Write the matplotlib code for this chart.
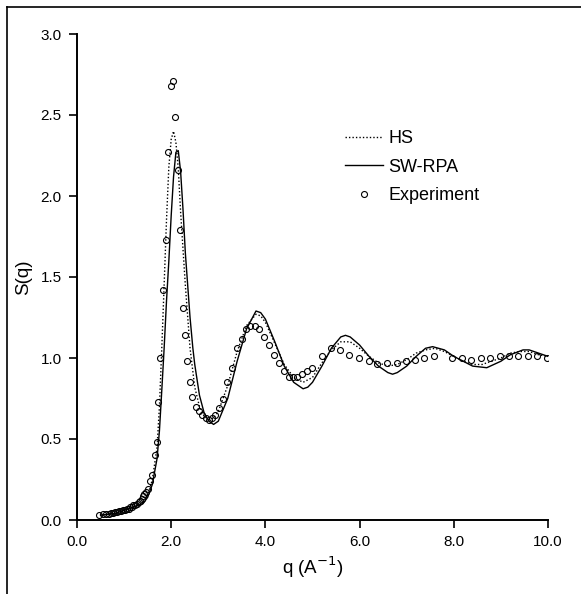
import matplotlib.pyplot as plt
from matplotlib.lines import Line2D
import numpy as np

plt.rcParams['font.family'] = ['Liberation Sans', 'DejaVu Sans']

# theory curves
q_hs = [0.5, 0.8, 1.0, 1.2, 1.4, 1.5, 1.6, 1.7, 1.75, 1.8, 1.85, 1.9, 1.95, 2.0, 2.05, 2.1,
        2.15, 2.2, 2.3, 2.4, 2.5, 2.6, 2.7, 2.8, 2.9, 3.0, 3.2, 3.4, 3.6, 3.8, 3.9, 4.0,
        4.2, 4.4, 4.6, 4.8, 5.0, 5.2, 5.4, 5.6, 5.8, 6.0, 6.2, 6.4, 6.6, 6.8, 7.0, 7.2,
        7.4, 7.6, 7.8, 8.0, 8.2, 8.4, 8.6, 8.8, 9.0, 9.2, 9.4, 9.6, 9.8, 10.0]
s_hs = [0.03, 0.04, 0.06, 0.08, 0.11, 0.15, 0.25, 0.45, 0.7, 1.06, 1.45, 1.85, 2.18, 2.35, 2.40, 2.33,
        2.17, 1.9, 1.45, 1.06, 0.82, 0.70, 0.64, 0.62, 0.63, 0.67, 0.83, 1.04, 1.20, 1.27, 1.26, 1.22,
        1.09, 0.96, 0.88, 0.85, 0.88, 0.97, 1.05, 1.10, 1.10, 1.06, 1.01, 0.97, 0.95, 0.96, 0.99, 1.03,
        1.05, 1.06, 1.04, 1.01, 0.98, 0.96, 0.96, 0.98, 1.0, 1.03, 1.04, 1.04, 1.02, 1.01]

q_sw = [0.5, 0.8, 1.0, 1.2, 1.4, 1.5, 1.6, 1.7, 1.75, 1.8, 1.85, 1.9, 1.95, 2.0, 2.05, 2.1,
        2.15, 2.2, 2.25, 2.3, 2.4, 2.46, 2.5, 2.6, 2.7, 2.8, 2.9, 3.0, 3.2, 3.4, 3.6, 3.8, 3.9,
        4.0, 4.2, 4.4, 4.6, 4.8, 4.9, 5.0, 5.2, 5.4, 5.6, 5.7, 5.8, 6.0, 6.2, 6.4, 6.6, 6.7,
        6.8, 7.0, 7.2, 7.4, 7.55, 7.8, 8.0, 8.2, 8.4, 8.7, 9.0, 9.2, 9.47, 9.6, 9.8, 10.0]
s_sw = [0.03, 0.04, 0.06, 0.08, 0.10, 0.14, 0.22, 0.38, 0.55, 0.8, 1.06, 1.35, 1.6, 1.88, 2.12, 2.27,
        2.28, 2.15, 1.92, 1.65, 1.25, 1.06, 0.96, 0.77, 0.66, 0.61, 0.59, 0.61, 0.75, 0.98, 1.18, 1.29, 1.28,
        1.24, 1.10, 0.95, 0.85, 0.81, 0.82, 0.85, 0.95, 1.06, 1.13, 1.14, 1.13, 1.08, 1.01, 0.95, 0.91, 0.90,
        0.91, 0.95, 1.01, 1.06, 1.07, 1.05, 1.01, 0.98, 0.95, 0.94, 0.98, 1.02, 1.05, 1.05, 1.03, 1.01]

# experiment
q_exp = [0.47, 0.55, 0.62, 0.68, 0.72, 0.77, 0.81, 0.85, 0.89, 0.94, 0.98, 1.02, 1.06, 1.10,
         1.13, 1.16, 1.19, 1.23, 1.27, 1.31, 1.34, 1.37, 1.40, 1.43, 1.46, 1.51, 1.55, 1.59,
         1.66, 1.69, 1.72, 1.76, 1.83, 1.89, 1.93, 2.00, 2.03, 2.08, 2.14, 2.19, 2.25, 2.29,
         2.34, 2.39, 2.45, 2.52, 2.59, 2.66, 2.73, 2.80, 2.87, 2.94, 3.01, 3.10, 3.18, 3.29,
         3.40, 3.50, 3.59, 3.67, 3.78, 3.86, 3.97, 4.08, 4.18, 4.29, 4.39, 4.50, 4.59, 4.67,
         4.78, 4.88, 4.99, 5.20, 5.39, 5.58, 5.77, 5.99, 6.20, 6.37, 6.58, 6.79, 6.99, 7.18,
         7.37, 7.58, 7.96, 8.17, 8.37, 8.58, 8.77, 8.98, 9.17, 9.36, 9.58, 9.77, 9.98]
s_exp = [0.03, 0.035, 0.04, 0.04, 0.045, 0.045, 0.05, 0.05, 0.055, 0.055, 0.06, 0.06, 0.07, 0.07,
         0.08, 0.08, 0.09, 0.09, 0.10, 0.11, 0.12, 0.13, 0.15, 0.16, 0.17, 0.19, 0.24, 0.28,
         0.40, 0.48, 0.73, 1.0, 1.42, 1.73, 2.27, 2.68, 2.71, 2.49, 2.16, 1.79, 1.31, 1.14,
         0.98, 0.85, 0.76, 0.70, 0.67, 0.65, 0.63, 0.62, 0.63, 0.65, 0.69, 0.75, 0.85, 0.94,
         1.06, 1.12, 1.18, 1.20, 1.20, 1.18, 1.13, 1.08, 1.02, 0.97, 0.92, 0.88, 0.88, 0.88,
         0.90, 0.92, 0.94, 1.01, 1.06, 1.05, 1.02, 1.00, 0.98, 0.96, 0.97, 0.97, 0.98, 0.99,
         1.00, 1.01, 1.00, 1.00, 0.99, 1.00, 1.00, 1.01, 1.01, 1.01, 1.01, 1.01, 1.00]

fig = plt.figure(figsize=(5.81, 5.94), dpi=100)
ax = fig.add_axes([77/581, 74/594, 471/581, 486/594])

ax.plot(q_hs, s_hs, color='black', linestyle=(0, (1, 1.5)), linewidth=1.0, label='HS')
ax.plot(q_sw, s_sw, color='black', linestyle='-', linewidth=1.0, label='SW-RPA')
ax.plot(q_exp, s_exp, linestyle='none', marker='o', markersize=4.3, markerfacecolor='none',
        markeredgecolor='black', markeredgewidth=0.8, label='Experiment')

ax.set_xlim(0, 10)
ax.set_ylim(0, 3)
ax.set_xticks(np.arange(0, 10.1, 2))
ax.set_yticks(np.arange(0, 3.01, 0.5))
ax.set_xticklabels(['%.1f' % v for v in np.arange(0, 10.1, 2)])
ax.set_yticklabels(['%.1f' % v for v in np.arange(0, 3.01, 0.5)])
ax.spines['top'].set_visible(False)
ax.spines['right'].set_visible(False)
ax.spines['left'].set_linewidth(1.4)
ax.spines['bottom'].set_linewidth(1.4)
ax.tick_params(direction='out', length=6, width=1.2, labelsize=11, pad=5)
ax.set_xlabel('q (A$^{-1}$)', fontsize=13.5, labelpad=4)
ax.set_ylabel('S(q)', fontsize=13.5, labelpad=6)

ax.legend(loc='upper left', bbox_to_anchor=(0.535, 0.835), frameon=False, fontsize=13,
          handlelength=2.1, handletextpad=0.3, labelspacing=0.62, borderpad=0.4)

# partial frame around the figure
fig.add_artist(Line2D([7/581, 1], [1 - 7/594, 1 - 7/594], color='black', linewidth=1.2))
fig.add_artist(Line2D([7/581, 7/581], [0, 1 - 7/594], color='black', linewidth=1.2))

fig.savefig('out.png', dpi=100)
